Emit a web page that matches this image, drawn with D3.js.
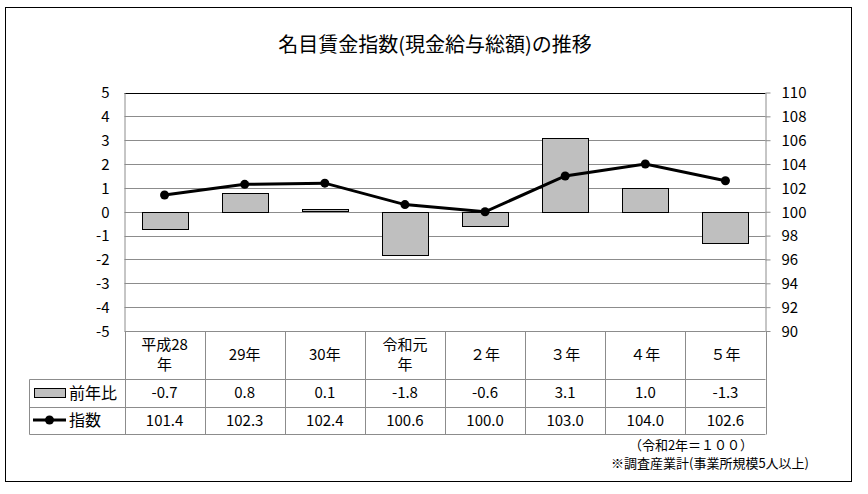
<!DOCTYPE html>
<html>
<head>
<meta charset="utf-8">
<script src="https://cdn.jsdelivr.net/npm/d3@7"></script>
<style>
  body { margin: 0; background: #fff; }
  svg text { font-family: "Noto Sans CJK JP", "Noto Sans", sans-serif; fill: #000; }
</style>
</head>
<body>
<svg id="chart" width="868" height="494"></svg>
<script>
// chart data
var categories = [['平成28', '年'], ['29年'], ['30年'], ['令和元', '年'], ['２年'], ['３年'], ['４年'], ['５年']];
var changeValues = [-0.7, 0.8, 0.1, -1.8, -0.6, 3.1, 1.0, -1.3];
var indexValues = [101.4, 102.3, 102.4, 100.6, 100.0, 103.0, 104.0, 102.6];
var leftTicks = [5, 4, 3, 2, 1, 0, -1, -2, -3, -4, -5];
var rightTicks = [110, 108, 106, 104, 102, 100, 98, 96, 94, 92, 90];
var seriesNames = ['前年比', '指数'];
var title = '名目賃金指数(現金給与総額)の推移';
var notes = ['（令和2年＝１００）', '※調査産業計(事業所規模5人以上)'];

(function(){
var svg = d3.select('#chart');
var gridColor = '#8c8c8c';
var fmt1 = function(d){ return d.toFixed(1); };

// outer frame
svg.append('rect')
    .attr('x', 5.5).attr('y', 7.5)
    .attr('width', 846).attr('height', 474)
    .style('fill', '#fff').style('stroke', '#000').style('stroke-width', 1);

svg.append('text')
    .attr('x', 435).attr('y', 52)
    .attr('text-anchor', 'middle')
    .style('font-size', '20px')
    .text(title);

var plotLeft = 124.5, plotRight = 765.5, plotTop = 92.5, plotBottom = 331;

var x = d3.scaleBand()
    .domain(d3.range(categories.length))
    .range([plotLeft, plotRight]);

var y = d3.scaleLinear().domain([-5, 5]).range([plotBottom, plotTop]);
var y2 = d3.scaleLinear().domain([90, 110]).range([plotBottom, plotTop]);

// gridlines
svg.append('g').selectAll('line')
    .data(leftTicks)
    .enter().append('line')
    .attr('x1', plotLeft).attr('x2', plotRight)
    .attr('y1', function(d){ return Math.round(y(d)) + 0.5; })
    .attr('y2', function(d){ return Math.round(y(d)) + 0.5; })
    .style('stroke', function(d){ return d === 5 ? '#000' : gridColor; })
    .style('stroke-width', 1);

// left axis
var leftAxis = svg.append('g')
    .attr('transform', 'translate(' + plotLeft + ',0)')
    .call(d3.axisLeft(y).tickValues(leftTicks).tickSize(0).tickPadding(15).tickFormat(function(d){ return String(d); }));
leftAxis.select('.domain').style('stroke', gridColor);
leftAxis.selectAll('text').style('font-size', '15px').attr('dy', '0.35em');

// right axis
var rightAxis = svg.append('g')
    .attr('transform', 'translate(' + plotRight + ',0)')
    .call(d3.axisRight(y2).tickValues(rightTicks).tickSize(5).tickPadding(11).tickSizeOuter(0));
rightAxis.select('.domain').style('stroke', gridColor);
rightAxis.selectAll('line').style('stroke', gridColor);
rightAxis.selectAll('text').style('font-size', '15px').attr('dy', '0.35em');

// bars
var barW = 46;
svg.append('g').selectAll('rect')
    .data(changeValues)
    .enter().append('rect')
    .attr('x', function(d, i){ return Math.round(x(i) + x.bandwidth() / 2 - barW / 2) + 0.5; })
    .attr('y', function(d){ return Math.round(y(Math.max(0, d))) + 0.5; })
    .attr('width', barW)
    .attr('height', function(d){ return Math.round(Math.abs(y(d) - y(0))); })
    .style('fill', '#bfbfbf')
    .style('stroke', '#000')
    .style('stroke-width', 1);

// index line
var line = d3.line()
    .x(function(d, i){ return x(i) + x.bandwidth() / 2; })
    .y(function(d){ return y2(d); });

svg.append('path')
    .datum(indexValues)
    .attr('d', line)
    .style('fill', 'none')
    .style('stroke', '#000')
    .style('stroke-width', 3);

svg.append('g').selectAll('circle')
    .data(indexValues)
    .enter().append('circle')
    .attr('cx', function(d, i){ return x(i) + x.bandwidth() / 2; })
    .attr('cy', function(d){ return y2(d); })
    .attr('r', 4.5)
    .style('fill', '#000');

// data table
var tLeft = 29.5, rowCat = 379.5, row1 = 407.5, row2 = 434.5;
var table = svg.append('g').style('stroke', gridColor).style('stroke-width', 1);

[rowCat, row1, row2].forEach(function(yy){
    table.append('line').attr('x1', tLeft).attr('x2', plotRight).attr('y1', yy).attr('y2', yy);
});
table.append('line').attr('x1', tLeft).attr('x2', tLeft).attr('y1', rowCat).attr('y2', row2);
d3.range(categories.length + 1).forEach(function(i){
    var xx = Math.round(plotLeft + i * x.bandwidth()) + 0.5;
    table.append('line').attr('x1', xx).attr('x2', xx).attr('y1', plotBottom).attr('y2', row2);
});

// category labels
svg.append('g').selectAll('text')
    .data(categories)
    .enter().append('text')
    .attr('text-anchor', 'middle')
    .attr('x', function(d, i){ return x(i) + x.bandwidth() / 2; })
    .attr('y', function(d){ return d.length > 1 ? 350 : 360; })
    .style('font-size', '15px')
    .each(function(d){
        var t = d3.select(this);
        d.forEach(function(s, k){
            t.append('tspan')
                .attr('x', t.attr('x'))
                .attr('dy', k === 0 ? 0 : 20)
                .text(s);
        });
    });

svg.append('g').selectAll('text')
    .data(changeValues)
    .enter().append('text')
    .attr('text-anchor', 'middle')
    .attr('x', function(d, i){ return x(i) + x.bandwidth() / 2; })
    .attr('y', 398)
    .style('font-size', '15px')
    .text(fmt1);

svg.append('g').selectAll('text')
    .data(indexValues)
    .enter().append('text')
    .attr('text-anchor', 'middle')
    .attr('x', function(d, i){ return x(i) + x.bandwidth() / 2; })
    .attr('y', 426)
    .style('font-size', '15px')
    .text(fmt1);

// legend keys
svg.append('rect')
    .attr('x', 34.5).attr('y', 388.5).attr('width', 31).attr('height', 9)
    .style('fill', '#bfbfbf').style('stroke', '#000');
svg.append('text').attr('x', 69).attr('y', 399).style('font-size', '16px').text(seriesNames[0]);

svg.append('line')
    .attr('x1', 33).attr('x2', 66).attr('y1', 420).attr('y2', 420)
    .style('stroke', '#000').style('stroke-width', 3);
svg.append('circle').attr('cx', 49.5).attr('cy', 420).attr('r', 4.5).style('fill', '#000');
svg.append('text').attr('x', 69).attr('y', 426).style('font-size', '16px').text(seriesNames[1]);

// notes
svg.append('text')
    .attr('x', 691).attr('y', 450)
    .attr('text-anchor', 'middle')
    .style('font-size', '13px')
    .text(notes[0]);
svg.append('text')
    .attr('x', 611).attr('y', 468)
    .style('font-size', '13px')
    .text(notes[1]);
})();
</script>
</body>
</html>
